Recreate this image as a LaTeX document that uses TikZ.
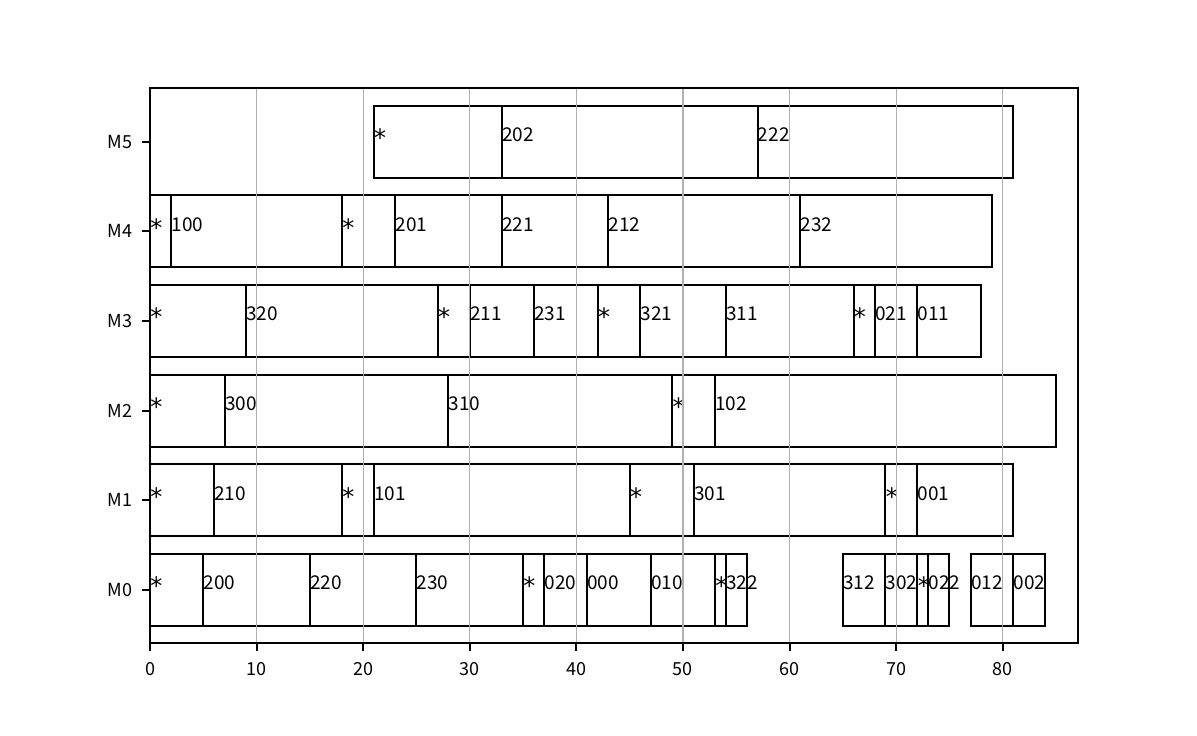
\documentclass[tikz,border=0pt]{standalone}
\usepackage{graphicx}
\usepackage{fontspec}
\setmainfont{Noto Sans CJK SC}
\newfontfamily\dejavu{DejaVu Sans}
\definecolor{cinza}{HTML}{B0B0B0}
\newcommand{\estrela}{\raisebox{-2.5pt}{\dejavu\fontsize{12}{12}\selectfont *}}

\begin{document}
\begin{tikzpicture}[x=5.3295pt, y=44.83pt,
    barra/.style={draw, line width=1pt},
    rotulo/.style={anchor=base west, inner sep=0pt, font=\fontsize{9.5}{9.5}\selectfont},
    grade/.style={draw=cinza, line width=0.6pt},
    marca/.style={inner sep=0pt, font=\fontsize{9}{9}\selectfont}]
    \useasboundingbox (-14.073,-1.628) rectangle (98.226,6.580);
    % Maquina M0
    \foreach \a/\b/\t in {0/5/\estrela, 5/15/200, 15/25/220, 25/35/230, 35/37/\estrela, 37/41/020, 41/47/000, 47/53/010, 53/54/\estrela, 54/56/322, 65/69/312, 69/72/302, 72/73/\estrela, 73/75/022, 77/81/012, 81/84/002} {
        \draw[barra] (\a,-0.4) rectangle (\b,0.4);
        \node[rotulo] (m0-\a) at (\a,0) {\t};
    }
    % Maquina M1
    \foreach \a/\b/\t in {0/6/\estrela, 6/18/210, 18/21/\estrela, 21/45/101, 45/51/\estrela, 51/69/301, 69/72/\estrela, 72/81/001} {
        \draw[barra] (\a,0.6) rectangle (\b,1.4);
        \node[rotulo] (m1-\a) at (\a,1) {\t};
    }
    % Maquina M2
    \foreach \a/\b/\t in {0/7/\estrela, 7/28/300, 28/49/310, 49/53/\estrela, 53/85/102} {
        \draw[barra] (\a,1.6) rectangle (\b,2.4);
        \node[rotulo] (m2-\a) at (\a,2) {\t};
    }
    % Maquina M3
    \foreach \a/\b/\t in {0/9/\estrela, 9/27/320, 27/30/\estrela, 30/36/211, 36/42/231, 42/46/\estrela, 46/54/321, 54/66/311, 66/68/\estrela, 68/72/021, 72/78/011} {
        \draw[barra] (\a,2.6) rectangle (\b,3.4);
        \node[rotulo] (m3-\a) at (\a,3) {\t};
    }
    % Maquina M4
    \foreach \a/\b/\t in {0/2/\estrela, 2/18/100, 18/23/\estrela, 23/33/201, 33/43/221, 43/61/212, 61/79/232} {
        \draw[barra] (\a,3.6) rectangle (\b,4.4);
        \node[rotulo] (m4-\a) at (\a,4) {\t};
    }
    % Maquina M5
    \foreach \a/\b/\t in {21/33/\estrela, 33/57/202, 57/81/222} {
        \draw[barra] (\a,4.6) rectangle (\b,5.4);
        \node[rotulo] (m5-\a) at (\a,5) {\t};
    }
    % Grade
    \foreach \x in {10,20,...,80}
        \draw[grade] (\x,-0.594) -- (\x,5.596);
    % Eixos
    \draw[line width=1pt] (0,-0.594) rectangle (87.06,5.596);
    % Marcas
    \foreach \x in {0,10,...,80} {
        \draw[line width=1pt] (\x,-0.594) -- ++(0,-4pt)
            node[marca, anchor=north, yshift=-5.2pt] (x\x) {\x};
    }
    \foreach \m in {0,...,5} {
        \draw[line width=1pt] (0,\m) -- ++(-4pt,0)
            node[marca, anchor=east, xshift=-4.3pt] (y\m) {M\m};
    }
\end{tikzpicture}
\end{document}
